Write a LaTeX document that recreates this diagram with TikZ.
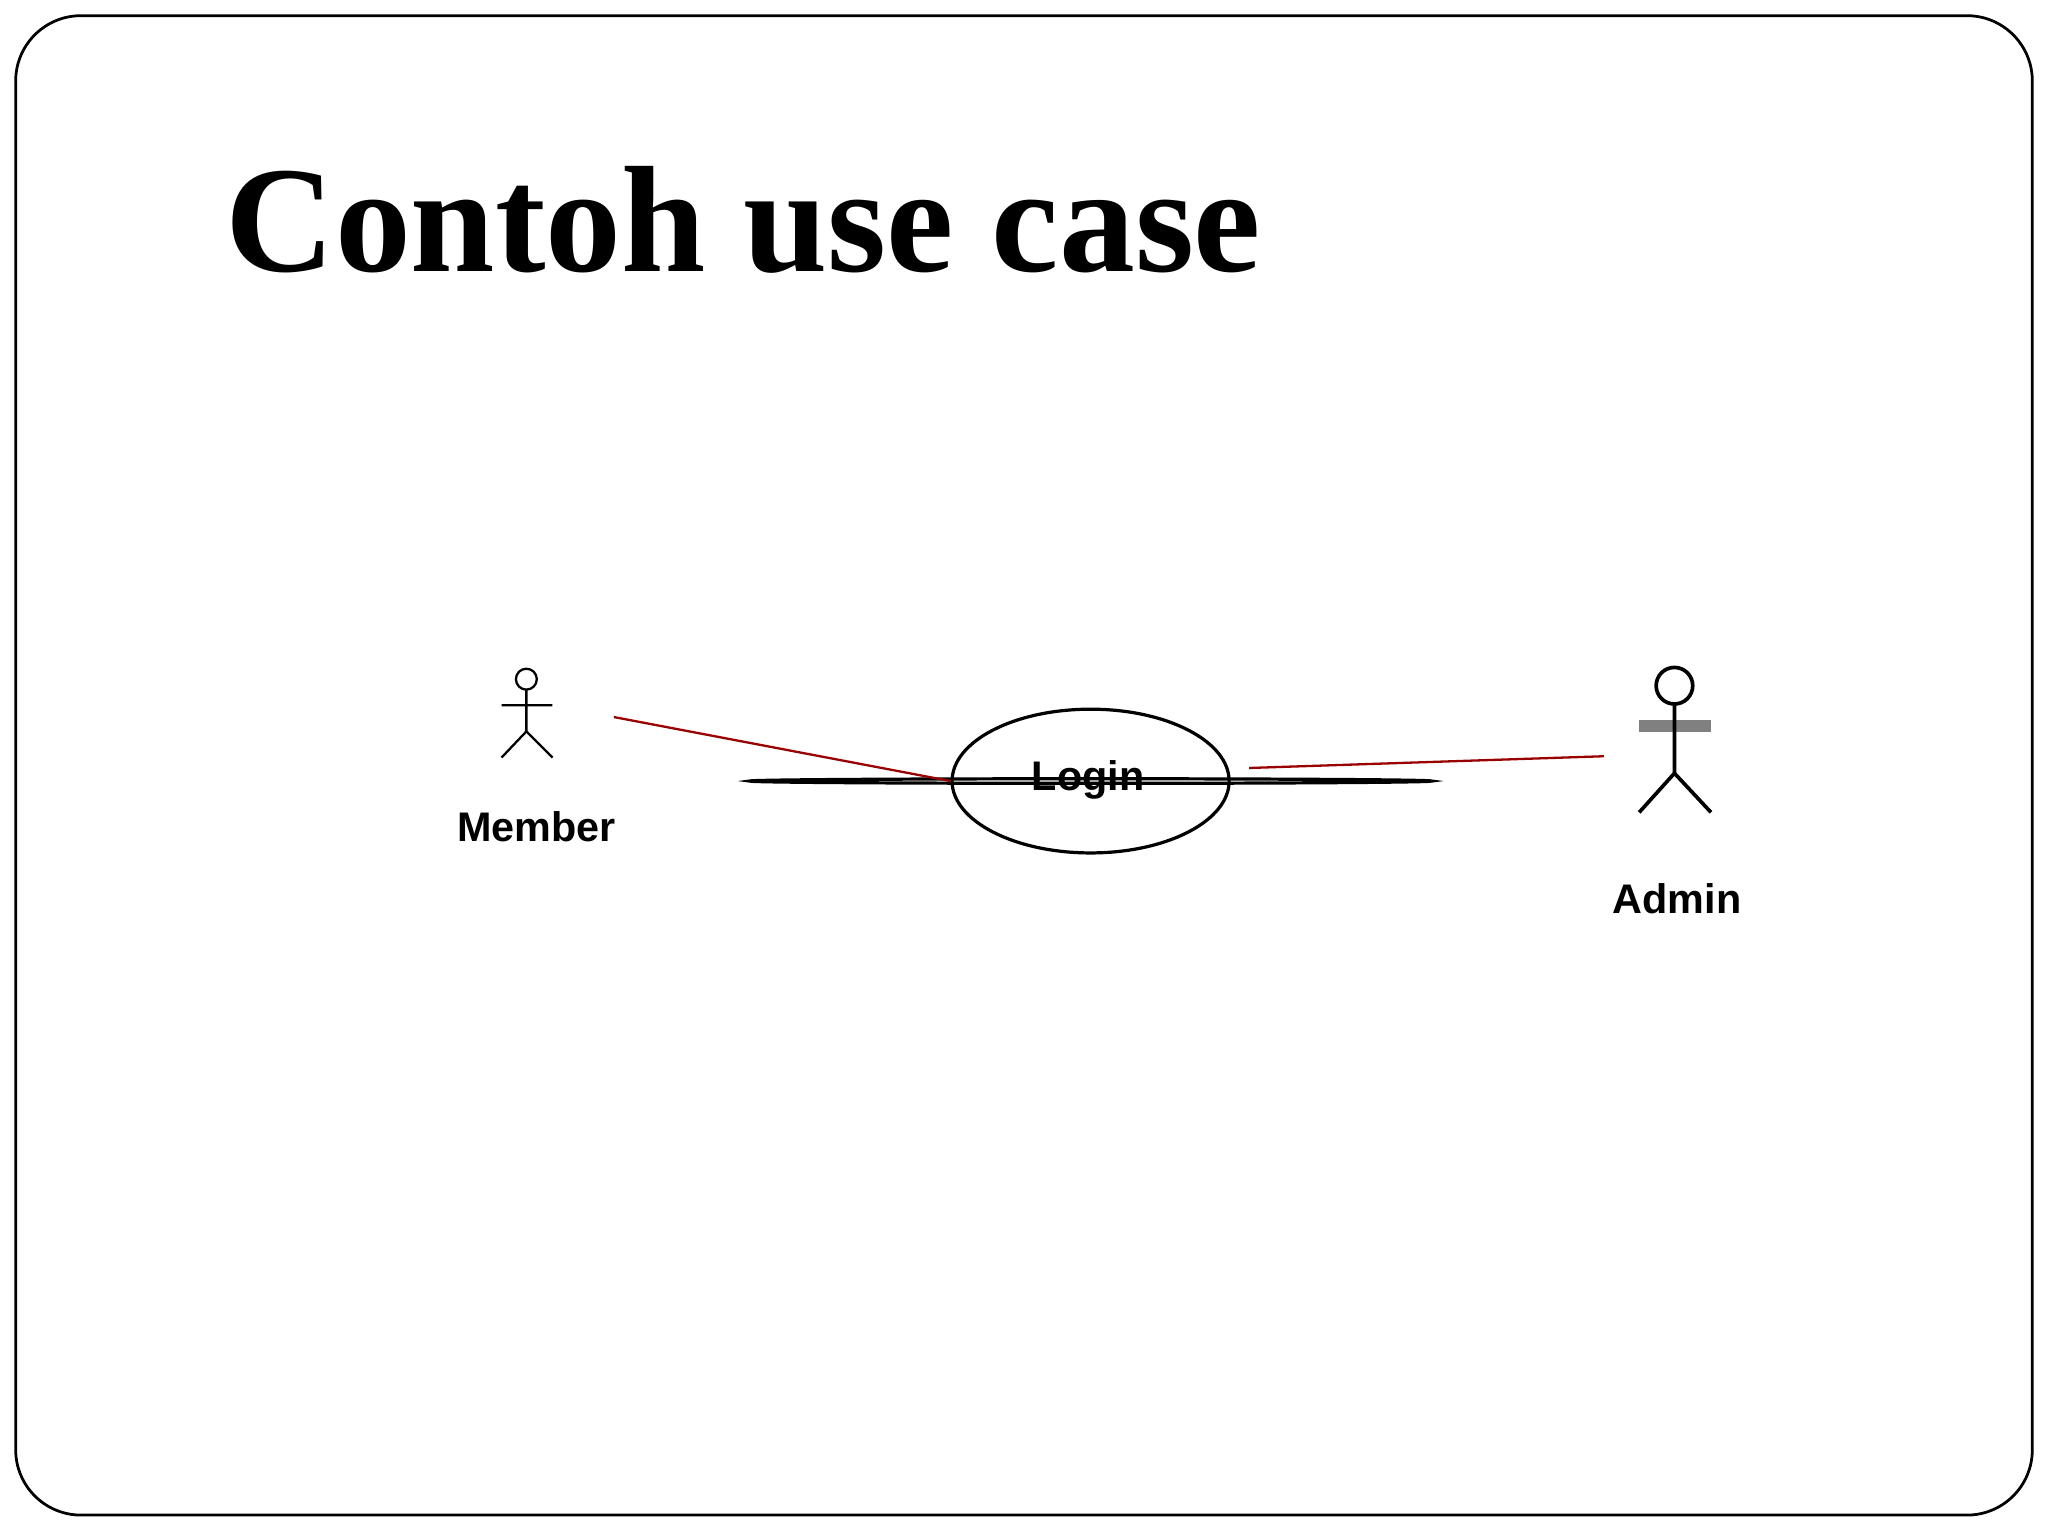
\documentclass[tikz,border=0pt]{standalone}
\usepackage{fontspec}
\setmainfont{Liberation Serif}
\setsansfont{Liberation Sans}
\usetikzlibrary{shapes.geometric}
\begin{document}
\begin{tikzpicture}[x=0.01cm,y=-0.01cm,
  lbl/.style={font=\sffamily\bfseries\fontsize{9}{10}\selectfont},
  conn/.style={draw=red!60!black,line width=0.5pt},
  stick/.style={line width=0.5pt}]
\useasboundingbox (0,0) rectangle (1568,1176);
\draw[line width=0.6pt,rounded corners=0.5cm] (12,12) rectangle (1556,1160);
\node[anchor=base west,inner sep=0,font=\bfseries\fontsize{33}{36}\selectfont] (title) at (172,208) {Contoh use case};
% Member actor
\draw[stick] (403,520) circle (8);
\draw[stick] (403,528) -- (403,560) (384,540) -- (423,540) (384,580) -- (403,560) -- (423,580);
\node[lbl] (member) at (411,633) {Member};
\coordinate (mend) at (470,549);
% Login
\node[ellipse,draw,line width=0.7pt,minimum width=212\pgflinewidth,inner sep=0] (login) at (835,598) {};
\path (login) node[ellipse,draw,line width=0.7pt,minimum width=2.12cm,minimum height=1.1cm] (uc) at (835,598) {};
\node[lbl] (logintxt) at (833,597) {Login};
% Admin actor
\draw[line width=0.8pt] (1282,525) circle (14);
\draw[gray,line width=2.5pt] (1255,556) -- (1310,556);
\draw[line width=0.8pt] (1282,539) -- (1282,592) (1255,622) -- (1282,592) -- (1310,622);
\node[lbl] (admin) at (1284,688) {Admin};
\coordinate (aend) at (1228,579);
\draw[conn] (mend) -- (uc.west);
\draw[conn] (uc.east) ++(14,-10) coordinate (ue) ;
\draw[conn] (ue) -- (aend);
\end{tikzpicture}
\end{document}
